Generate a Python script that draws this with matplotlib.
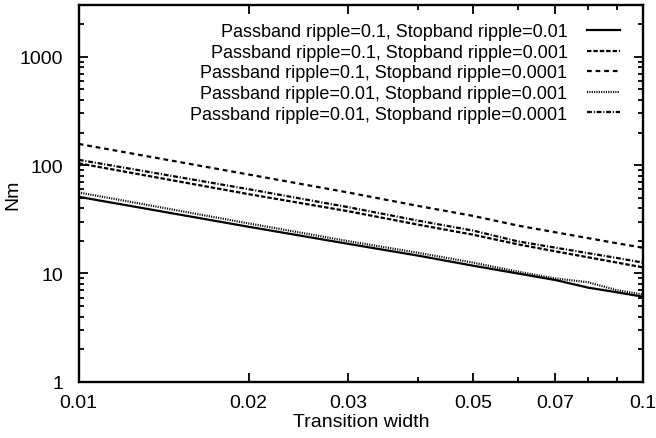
import matplotlib
matplotlib.use("Agg")
import matplotlib.pyplot as plt
from matplotlib.ticker import FixedLocator, NullFormatter

# Estimated filter order Nm against transition width
width = [0.01, 0.02, 0.03, 0.04, 0.05, 0.06, 0.07, 0.08, 0.09, 0.1]
nm_p01_s001 = [51, 27, 18.8, 14.6, 11.8, 10.0, 8.7, 7.4, 6.7, 6.1]
nm_p01_s0001 = [104, 54, 37.6, 28.2, 22.8, 18.6, 16.0, 14.1, 12.6, 11.4]
nm_p01_s00001 = [157, 82, 56, 42, 34, 27.7, 24, 21.2, 19, 17.3]
nm_p001_s0001 = [56, 29, 19.9, 15.5, 12.6, 10.4, 9.0, 8.3, 7.0, 6.4]
nm_p001_s00001 = [112, 60, 41, 30.7, 24.9, 19.8, 17.3, 15.4, 13.9, 12.6]

labels = [
    "Passband ripple=0.1, Stopband ripple=0.01",
    "Passband ripple=0.1, Stopband ripple=0.001",
    "Passband ripple=0.1, Stopband ripple=0.0001",
    "Passband ripple=0.01, Stopband ripple=0.001",
    "Passband ripple=0.01, Stopband ripple=0.0001",
]
xtick_vals = [0.01, 0.02, 0.03, 0.05, 0.07, 0.1]
xtick_labels = ["0.01", "0.02", "0.03", "0.05", "0.07", "0.1"]
ytick_vals = [1, 10, 100, 1000]
ytick_labels = ["1", "10", "100", "1000"]

plt.rcParams["font.family"] = ["Liberation Sans", "DejaVu Sans"]
plt.rcParams["font.size"] = 14
plt.rcParams["lines.scale_dashes"] = False

fig = plt.figure(figsize=(6.56, 4.39), dpi=100)
ax = fig.add_axes([0.120, 0.128, 0.860, 0.858])

styles = ["-", (0, (3.2, 1.4)), (0, (3.4, 2.8)), (0, (0.8, 0.9)), (0, (3.5, 1.3, 0.8, 1.3))]
series = [nm_p01_s001, nm_p01_s0001, nm_p01_s00001, nm_p001_s0001, nm_p001_s00001]
for ys, ls, lab in zip(series, styles, labels):
    ax.plot(width, ys, color="black", lw=1.6, linestyle=ls, label=lab)

ax.set_xscale("log")
ax.set_yscale("log")
ax.set_xlim(0.01, 0.1)
ax.set_ylim(1, 3000)

ax.xaxis.set_major_locator(FixedLocator(xtick_vals))
ax.set_xticklabels(xtick_labels)
ax.xaxis.set_minor_locator(FixedLocator([0.04, 0.06, 0.08, 0.09]))
ax.xaxis.set_minor_formatter(NullFormatter())
ax.yaxis.set_major_locator(FixedLocator(ytick_vals))
ax.set_yticklabels(ytick_labels)
ax.yaxis.set_minor_locator(FixedLocator([m * 10 ** e for e in range(0, 4) for m in range(2, 10) if m * 10 ** e < 3000]))
ax.yaxis.set_minor_formatter(NullFormatter())

ax.tick_params(which="both", direction="in", top=True, right=True, width=1.3)
ax.tick_params(which="major", length=6.5)
ax.tick_params(which="minor", length=3.5)
ax.tick_params(axis="x", pad=9)
ax.tick_params(axis="y", pad=11)
for sp in ax.spines.values():
    sp.set_linewidth(1.7)

ax.set_xlabel("Transition width", labelpad=1)
ax.set_ylabel("Nm", labelpad=-1)

leg = ax.legend(loc="upper right", bbox_to_anchor=(0.959, 0.952), frameon=False,
                markerfirst=False, handlelength=1.8, handletextpad=1.1,
                labelspacing=0.2, borderpad=0, borderaxespad=0, fontsize=13)

fig.savefig("out.png", dpi=100)
